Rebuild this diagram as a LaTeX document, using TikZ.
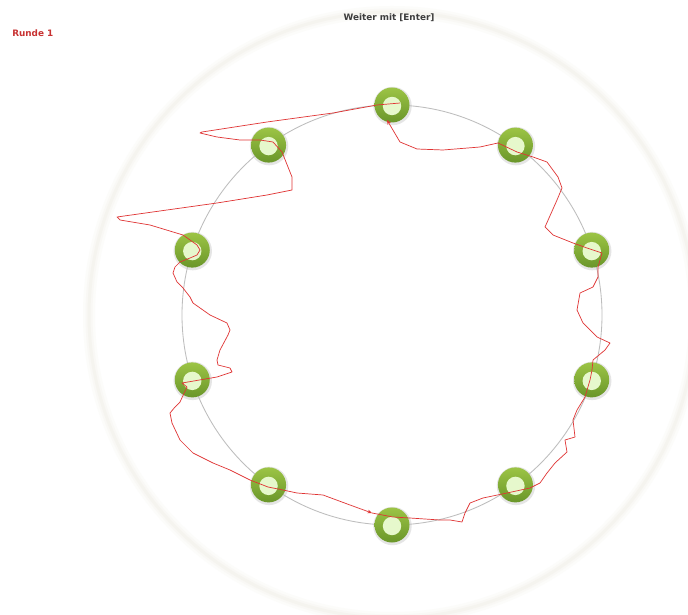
\documentclass[tikz,border=0pt]{standalone}
\usepackage{fontspec}
\setmainfont{DejaVu Sans}
\usetikzlibrary{arrows.meta,calc}
\definecolor{trace}{HTML}{E03434}
\definecolor{ringgray}{HTML}{BDBDBD}
\definecolor{gtop}{HTML}{9CC445}
\definecolor{gbot}{HTML}{6A962A}
\definecolor{inner}{HTML}{E6F8CC}
\definecolor{glowA}{HTML}{FCFCFA}
\definecolor{glowB}{HTML}{F9F8F5}
\definecolor{glowC}{HTML}{F5F4EF}
\definecolor{runde}{HTML}{C83232}
\definecolor{hint}{HTML}{3C3C3C}
\tikzset{
  target/.style={circle, minimum size=0.875cm, inner sep=0pt, top color=gtop, bottom color=gbot, draw=none},
  shadowdisc/.style={fill=black!25, opacity=0.4},
  innerdisc/.style={fill=inner},
  tracepath/.style={draw=trace, line width=0.5pt, line join=round},
  tip/.style={-{Stealth[length=3.2pt,width=2.6pt]}},
  label/.style={font=\fontsize{6.3pt}{7pt}\selectfont\bfseries, inner sep=0pt},
}
\begin{document}
\begin{tikzpicture}[x=0.025cm,y=-0.025cm]
\useasboundingbox (0,0) rectangle (688,615);
\clip (0,0) rectangle (688,615);
\fill[white] (0,0) rectangle (688,615);
% outer soft ring
\draw[glowA, line width=12*0.7113pt] (392,315) circle (303);
\draw[glowB, line width=7*0.7113pt] (392,315) circle (303);
\draw[glowC, line width=3*0.7113pt] (392,315) circle (303);
% guide circle
\draw[ringgray, line width=0.6pt] (392,315) circle (210);
% targets
\foreach \i/\a in {0/90,1/54,2/18,3/-18,4/-54,5/-90,6/-126,7/-162,8/162,9/126}{
  \coordinate (c\i) at ({392+210*cos(\a)},{315-210*sin(\a)});
  \fill[shadowdisc] ($(c\i)+(0.5,1)$) circle (19.2);
  \node[target] (t\i) at (c\i) {};
  \fill[innerdisc] ($(c\i)+(0,1)$) circle (9.2);
}
% red trace
\coordinate (start) at (400,103);
\coordinate (mid) at (372,513);
\coordinate (stop) at (387,120);
\draw[tracepath, tip] (start) -- (377,105) -- (333,113) -- (267,122) -- (202,132) -- (200,133)
  -- (217,137) -- (240,140) -- (260,140) -- (273,142) -- (282,152) -- (292,177) -- (292,190)
  -- (267,195) -- (217,203) -- (167,210) -- (117,217) -- (120,220) -- (150,225) -- (183,235)
  -- (197,245) -- (200,250) -- (197,255) -- (190,258) -- (180,262) -- (175,267) -- (173,273)
  -- (177,282) -- (183,288) -- (190,297) -- (193,303) -- (210,315) -- (227,323) -- (230,330)
  -- (228,335) -- (220,350) -- (217,360) -- (218,365) -- (230,368) -- (232,372) -- (217,377)
  -- (182,383) -- (187,387) -- (180,402) -- (175,407) -- (170,413) -- (172,423) -- (180,440)
  -- (193,453) -- (213,463) -- (230,470) -- (250,480) -- (268,487) -- (283,490) -- (297,493)
  -- (323,495) -- (350,505) -- (mid);
\draw[tracepath, tip] (mid) -- (393,517) -- (410,518) -- (440,520) -- (450,520) -- (462,522)
  -- (465,513) -- (470,503) -- (483,498) -- (507,493) -- (530,488) -- (540,483) -- (547,473)
  -- (555,463) -- (567,452) -- (565,440) -- (575,437) -- (573,420) -- (577,410) -- (585,397)
  -- (590,380) -- (592,370) -- (593,360) -- (605,350) -- (610,343) -- (597,337) -- (583,323)
  -- (577,310) -- (580,293) -- (593,287) -- (598,277) -- (598,267) -- (602,253) -- (587,248)
  -- (573,243) -- (553,235) -- (545,227) -- (557,200) -- (562,188) -- (558,177) -- (547,162)
  -- (533,157) -- (517,152) -- (498,143) -- (480,147) -- (443,150) -- (417,149) -- (400,142)
  -- (stop);
% texts
\node[label, text=runde, anchor=west] (runde) at (12,33) {Runde 1};
\node[label, text=hint] (weiter) at (389,18) {Weiter mit [Enter]};
\end{tikzpicture}
\end{document}
